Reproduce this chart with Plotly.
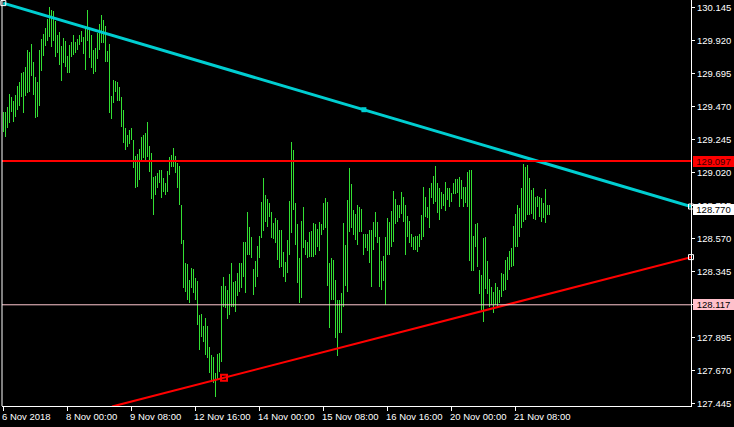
import plotly.graph_objects as go

# ---------------- data (H1 bars, USDJPY-like) ----------------
highs = [
    129.434, 129.434, 129.468, 129.554, 129.531, 129.509, 129.547, 129.609, 129.638, 129.700,
    129.706, 129.740, 129.854, 129.843, 129.895, 129.775, 129.672, 129.638, 129.854, 129.929,
    129.963, 130.002, 130.065, 130.145, 130.127, 130.120, 130.054, 129.956, 129.977, 129.881,
    129.936, 129.918, 129.813, 129.888, 129.909, 129.956, 129.906, 129.927, 129.956, 129.984,
    129.945, 130.013, 130.127, 129.990, 129.956, 129.854, 129.865, 129.972, 130.031, 130.093,
    130.059, 130.018, 129.850, 129.895, 129.540, 129.650, 129.645, 129.636, 129.600, 129.531,
    129.445, 129.320, 129.275, 129.309, 129.320, 129.240, 129.131, 129.145, 129.177, 129.263,
    129.275, 129.290, 129.363, 129.200, 129.150, 128.990, 128.995, 129.013, 129.036, 129.036,
    128.979, 128.950, 129.031, 129.127, 129.138, 129.184, 129.131, 129.086, 129.063, 128.797,
    128.559, 128.400, 128.393, 128.286, 128.365, 128.359, 128.297, 128.279, 128.047, 128.054,
    127.972, 128.025, 127.972, 127.831, 127.775, 127.763, 127.650, 127.781, 127.786, 128.245,
    128.309, 128.245, 128.218, 128.327, 128.404, 128.275, 128.279, 128.336, 128.400, 128.404,
    128.547, 128.547, 128.749, 128.650, 128.577, 128.359, 128.415, 128.520, 128.586, 128.820,
    128.979, 128.865, 128.836, 128.813, 128.747, 128.677, 128.706, 128.695, 128.627, 128.627,
    128.479, 128.411, 128.559, 128.825, 129.225, 129.172, 128.809, 128.668, 128.434, 128.688,
    128.781, 128.559, 128.547, 128.615, 128.620, 128.672, 128.668, 128.631, 128.681, 128.668,
    128.813, 128.843, 128.820, 128.400, 128.434, 128.422, 128.286, 128.150, 128.150, 128.195,
    128.672, 128.525, 128.831, 129.047, 128.940, 128.763, 128.736, 128.797, 128.781, 128.770,
    128.600, 128.600, 128.600, 128.627, 128.627, 128.684, 128.752, 128.684, 128.581, 128.418,
    128.450, 128.581, 128.706, 128.684, 128.759, 128.895, 128.836, 128.797, 128.797, 128.888,
    128.850, 128.797, 128.722, 128.688, 128.597, 128.577, 128.586, 128.586, 128.600, 128.729,
    128.922, 128.850, 128.786, 128.911, 128.950, 128.995, 129.063, 128.945, 128.911, 128.888,
    128.872, 128.952, 128.911, 128.911, 128.877, 128.945, 128.972, 128.975, 128.990, 128.968,
    128.922, 128.918, 129.020, 129.036, 129.036, 128.586, 128.668, 128.677, 128.354, 128.320,
    128.570, 128.581, 128.418, 128.290, 128.240, 128.206, 128.263, 128.240, 128.218, 128.331,
    128.327, 128.422, 128.445, 128.484, 128.502, 128.654, 128.736, 128.797, 128.775, 128.911,
    129.077, 129.059, 129.070, 128.979, 128.900, 128.911, 128.854, 128.859, 128.850, 128.843,
    128.809, 128.904, 128.797, 128.797,
]
lows = [
    129.297, 129.263, 129.320, 129.359, 129.434, 129.365, 129.400, 129.445, 129.472, 129.536,
    129.427, 129.540, 129.563, 129.570, 129.677, 129.547, 129.388, 129.395, 129.472, 129.713,
    129.813, 129.881, 129.918, 129.945, 129.877, 129.918, 129.809, 129.831, 129.752, 129.645,
    129.763, 129.740, 129.695, 129.700, 129.804, 129.820, 129.831, 129.854, 129.888, 129.911,
    129.827, 129.718, 129.918, 129.802, 129.729, 129.690, 129.706, 129.793, 129.854, 129.904,
    129.900, 129.775, 129.775, 129.427, 129.386, 129.490, 129.570, 129.509, 129.509, 129.331,
    129.218, 129.172, 129.195, 129.213, 129.240, 129.047, 128.915, 128.918, 128.968, 129.104,
    129.115, 129.093, 129.127, 129.025, 128.836, 128.729, 128.865, 128.911, 128.945, 128.843,
    128.888, 128.865, 128.888, 129.002, 129.059, 129.059, 129.013, 128.911, 128.797, 128.531,
    128.229, 128.206, 128.150, 128.127, 128.229, 128.195, 128.150, 127.979, 127.809, 127.900,
    127.865, 127.775, 127.752, 127.650, 127.593, 127.581, 127.490, 127.604, 127.661, 127.729,
    128.104, 128.093, 128.018, 128.047, 128.104, 128.104, 128.070, 128.177, 128.206, 128.229,
    128.309, 128.195, 128.456, 128.456, 128.434, 128.184, 128.240, 128.309, 128.434, 128.570,
    128.622, 128.684, 128.650, 128.718, 128.570, 128.563, 128.536, 128.422, 128.365, 128.377,
    128.309, 128.275, 128.336, 128.456, 128.604, 128.763, 128.525, 128.263, 128.127, 128.161,
    128.502, 128.456, 128.434, 128.445, 128.445, 128.440, 128.456, 128.513, 128.486, 128.593,
    128.627, 128.638, 128.247, 127.956, 128.150, 128.150, 127.888, 127.768, 127.922, 127.922,
    128.104, 128.247, 128.206, 128.615, 128.638, 128.593, 128.559, 128.525, 128.613, 128.615,
    128.456, 128.502, 128.486, 128.400, 128.240, 128.490, 128.581, 128.536, 128.240, 128.218,
    128.281, 128.115, 128.456, 128.456, 128.509, 128.547, 128.665, 128.684, 128.706, 128.736,
    128.684, 128.456, 128.581, 128.536, 128.513, 128.490, 128.490, 128.479, 128.513, 128.559,
    128.581, 128.713, 128.706, 128.638, 128.843, 128.804, 128.820, 128.740, 128.695, 128.770,
    128.790, 128.759, 128.831, 128.786, 128.820, 128.872, 128.872, 128.881, 128.786, 128.836,
    128.781, 128.809, 128.786, 128.418, 128.350, 128.350, 128.513, 128.377, 128.190, 128.081,
    128.002, 128.222, 128.190, 128.104, 128.115, 128.059, 128.115, 128.104, 128.127, 128.172,
    128.213, 128.218, 128.286, 128.354, 128.377, 128.381, 128.513, 128.513, 128.581, 128.638,
    128.684, 128.695, 128.729, 128.729, 128.736, 128.702, 128.695, 128.786, 128.713, 128.684,
    128.706, 128.677, 128.729, 128.729,
]
bar_index = list(range(len(highs)))

time_labels = ["6 Nov 2018", "8 Nov 00:00", "9 Nov 08:00", "12 Nov 16:00", "14 Nov 00:00",
               "15 Nov 08:00", "16 Nov 16:00", "20 Nov 00:00", "21 Nov 08:00"]
time_label_bars = [0, 32, 64, 96, 128, 160, 192, 224, 256]

price_ticks = [127.445, 127.670, 127.895, 128.120, 128.345, 128.570, 128.795,
               129.020, 129.245, 129.470, 129.695, 129.920, 130.145]

# trend lines: (bar index, price) anchors
upper_trend_x = [0, 343.85]
upper_trend_y = [130.174, 128.787]
upper_trend_mid = (180.3, 129.447)
lower_trend_x = [54.35, 343.85]
lower_trend_y = [127.423, 128.442]
lower_trend_mid = (110.35, 127.620)

resistance_level = 129.097
support_level = 128.117
last_price = 128.770

X_RANGE = [-0.65, 343.85]
Y_RANGE = [127.427, 130.195]

GREEN = "#33e033"
CYAN = "#00CED1"
RED = "#FF0000"
PINK = "#FFC8D0"
FONT = "Liberation Sans"

fig = go.Figure()

fig.add_trace(go.Bar(
    x=bar_index, y=[h - l for h, l in zip(highs, lows)], base=lows,
    width=0.35, marker=dict(color=GREEN, line=dict(width=0)),
    hoverinfo="skip", showlegend=False,
))

fig.add_trace(go.Scatter(x=upper_trend_x, y=upper_trend_y, mode="lines",
                         line=dict(color=CYAN, width=3), hoverinfo="skip", showlegend=False))
fig.add_trace(go.Scatter(x=lower_trend_x, y=lower_trend_y, mode="lines",
                         line=dict(color=RED, width=2), hoverinfo="skip", showlegend=False))

# anchor markers
fig.add_trace(go.Scatter(
    x=[upper_trend_x[0], lower_trend_x[0], upper_trend_x[1], lower_trend_x[1]],
    y=[upper_trend_y[0], lower_trend_y[0], upper_trend_y[1], lower_trend_y[1]],
    mode="markers", marker=dict(symbol="square-open", size=5, color="white", line=dict(width=1, color="white")),
    cliponaxis=False, hoverinfo="skip", showlegend=False))
fig.add_trace(go.Scatter(
    x=[upper_trend_mid[0]], y=[upper_trend_mid[1]], mode="markers",
    marker=dict(symbol="square", size=5, color=CYAN), hoverinfo="skip", showlegend=False))
fig.add_trace(go.Scatter(
    x=[lower_trend_mid[0]], y=[lower_trend_mid[1]], mode="markers",
    marker=dict(symbol="square-open", size=6, color=RED, line=dict(width=2, color=RED)),
    hoverinfo="skip", showlegend=False))

fig.add_shape(type="line", xref="paper", x0=0, x1=1, yref="y", y0=resistance_level, y1=resistance_level,
              line=dict(color=RED, width=2), layer="above")
fig.add_shape(type="line", xref="paper", x0=0, x1=1, yref="y", y0=support_level, y1=support_level,
              line=dict(color=PINK, width=1), layer="above")
# left frame line
fig.add_shape(type="line", xref="paper", x0=0, x1=0, yref="paper", y0=0, y1=1,
              line=dict(color="white", width=1), layer="above")

annotations = []
for lab, b in zip(time_labels, time_label_bars):
    annotations.append(dict(x=b, xref="x", y=0, yref="paper", text=lab, showarrow=False,
                            xanchor="left", yanchor="top", xshift=-3, yshift=-3,
                            font=dict(family=FONT, size=9.5, color="white")))

for val, bg, fg in [(resistance_level, RED, "#3a0000"), (support_level, "#FFC0CB", "#000000"),
                    (last_price, "#FFFFFF", "#000000")]:
    annotations.append(dict(x=1, xref="paper", y=val, yref="y", text=f"{val:.3f}", showarrow=False,
                            xanchor="left", yanchor="middle", xshift=2, width=41, height=11,
                            borderpad=0, borderwidth=0, align="center", bgcolor=bg,
                            font=dict(family=FONT, size=9.5, color=fg)))

fig.update_layout(
    width=734, height=427,
    margin=dict(l=2, r=43, t=0, b=21),
    paper_bgcolor="black", plot_bgcolor="black",
    bargap=0, showlegend=False,
    annotations=annotations,
    xaxis=dict(range=X_RANGE, showgrid=False, zeroline=False, showline=True, linecolor="white",
               linewidth=1, tickmode="array", tickvals=time_label_bars, showticklabels=False,
               ticks="outside", ticklen=4, tickcolor="white", fixedrange=True),
    yaxis=dict(range=Y_RANGE, side="right", showgrid=False, zeroline=False, showline=True,
               linecolor="white", linewidth=1, tickmode="array", tickvals=price_ticks,
               ticktext=[f"{v:.3f}" for v in price_ticks], ticks="outside", ticklen=3,
               tickcolor="white", tickfont=dict(family=FONT, size=9.5, color="white"),
               fixedrange=True),
)

fig.write_html(
    "out.html",
    config={"displayModeBar": False, "staticPlot": True},
    post_script="document.body.style.margin='0';document.body.style.padding='0';document.body.style.overflow='hidden';document.body.style.background='black';",
)
